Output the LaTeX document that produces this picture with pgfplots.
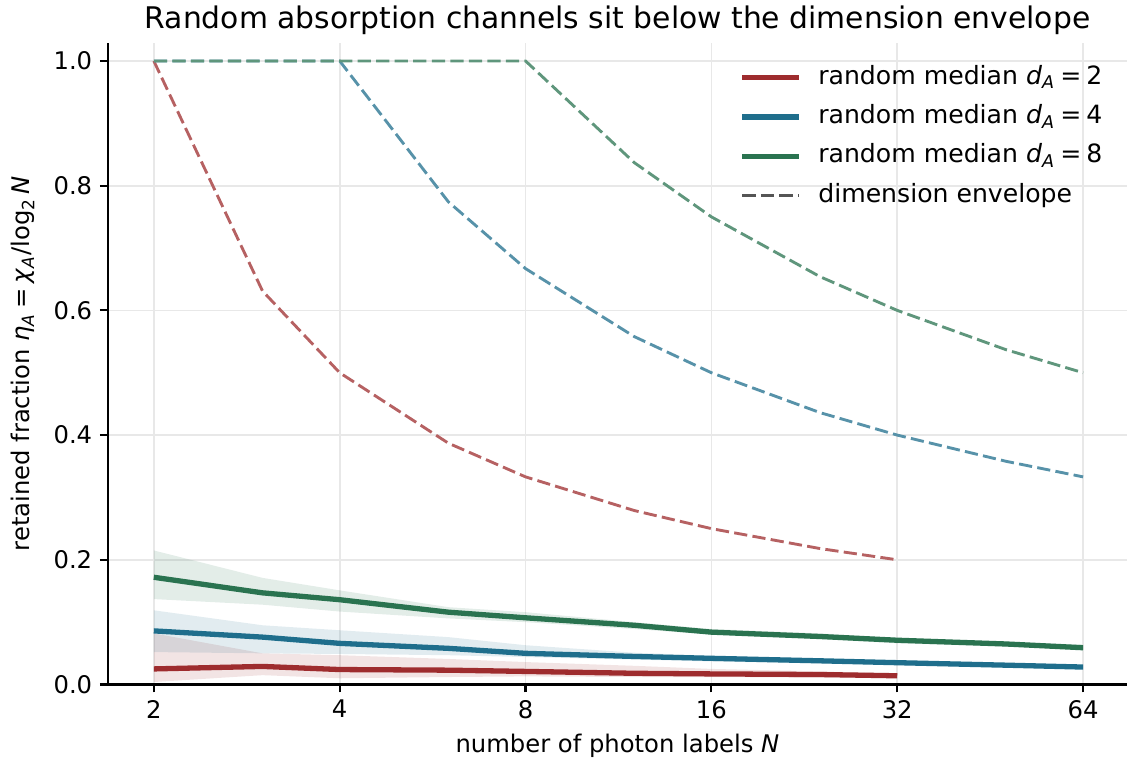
\documentclass[border=0pt]{standalone}
\usepackage{pgfplots}
\pgfplotsset{compat=1.18}
\usepackage{fontspec}
\setmainfont{DejaVu Sans}
\definecolor{cred}{RGB}{158,44,46}
\definecolor{cblue}{RGB}{31,110,140}
\definecolor{cgreen}{RGB}{42,115,80}
\definecolor{cgray}{RGB}{85,85,85}
\newcommand{\sub}[1]{\textsubscript{#1}}
\newcommand{\eqs}{\hspace{0.2em}=\hspace{0.2em}}
\begin{document}
\begin{tikzpicture}
\begin{axis}[
  scale only axis,
  width=462pt, height=290.8pt,
  xmode=log, log basis x=2,
  xmin=1.685, xmax=75.4,
  ymin=0, ymax=1.0288,
  xtick={2,4,8,16,32,64},
  xticklabels={2,4,8,16,32,64},
  ytick={0,0.2,0.4,0.6,0.8,1.0},
  yticklabel style={/pgf/number format/.cd, fixed, fixed zerofill, precision=1},
  /pgf/number format/assume math mode=true,
  axis x line*=bottom, axis y line*=left,
  axis line style={-, line width=1pt},
  tick align=outside,
  major tick length=3.6pt,
  tick style={black, line width=1pt},
  grid=major,
  major grid style={line width=0.8pt, color=black!9},
  ticklabel style={font=\fontsize{11}{13}\selectfont},
  xlabel={number of photon labels \textit{N}},
  ylabel={retained fraction \textit{η}\sub{\textit{A}}\eqs\textit{χ}\sub{\textit{A}}/log\sub{2}\,\textit{N}},
  label style={font=\fontsize{11}{13}\selectfont},
  ylabel style={at={(axis description cs:-0.083,0.5)}, anchor=center},
  title={Random absorption channels sit below the dimension envelope},
  title style={font=\fontsize{13.5}{15}\selectfont, at={(axis description cs:0.5,1)}, anchor=base, yshift=0.6pt},
  legend style={draw=none, fill=none, at={(axis description cs:0.6196,0.966)}, anchor=north west,
    font=\fontsize{11.4}{13}\selectfont, inner sep=0pt, row sep=6.9pt,
    nodes={inner sep=0pt, text height=8.5pt, text depth=2.5pt}},
  legend cell align=left,
  legend image code/.code={\path[draw=none, fill=none] (0pt,0pt) -- (34.4pt,0pt); \draw[#1] (0pt,0pt) -- (25.8pt,0pt);},
]
% bands
\addplot[fill=cred, fill opacity=0.13, draw=none, forget plot] coordinates {
 (2,0.082) (3,0.050) (4,0.047) (6,0.041) (8,0.036) (12,0.030) (16,0.025) (24,0.021) (32,0.018)
 (32,0.011) (24,0.011) (16,0.012) (12,0.012) (8,0.013) (6,0.012) (4,0.010) (3,0.015) (2,0.004)} -- cycle;
\addplot[fill=cblue, fill opacity=0.13, draw=none, forget plot] coordinates {
 (2,0.119) (3,0.095) (4,0.087) (6,0.076) (8,0.063) (12,0.051) (16,0.046) (24,0.041) (32,0.038) (48,0.034) (64,0.031)
 (64,0.026) (48,0.028) (32,0.031) (24,0.034) (16,0.037) (12,0.040) (8,0.044) (6,0.047) (4,0.049) (3,0.050) (2,0.052)} -- cycle;
\addplot[fill=cgreen, fill opacity=0.13, draw=none, forget plot] coordinates {
 (2,0.215) (3,0.171) (4,0.151) (6,0.124) (8,0.116) (12,0.100) (16,0.089) (24,0.082) (32,0.074) (48,0.068) (64,0.064)
 (64,0.057) (48,0.061) (32,0.066) (24,0.073) (16,0.080) (12,0.089) (8,0.100) (6,0.106) (4,0.117) (3,0.128) (2,0.137)} -- cycle;
% envelopes
\addplot[cred!75!white, line width=1.3pt, dash pattern=on 6pt off 2.4pt, forget plot] coordinates {
 (2,1.0) (3,0.631) (4,0.5) (6,0.387) (8,0.333) (12,0.279) (16,0.25) (24,0.218) (32,0.2)};
\addplot[cblue!75!white, line width=1.3pt, dash pattern=on 6pt off 2.4pt, forget plot] coordinates {
 (2,1.0) (3,1.0) (4,1.0) (6,0.774) (8,0.667) (12,0.558) (16,0.5) (24,0.436) (32,0.4) (48,0.358) (64,0.333)};
\addplot[cgreen!75!white, line width=1.3pt, dash pattern=on 6pt off 2.4pt, forget plot] coordinates {
 (2,1.0) (3,1.0) (4,1.0) (6,1.0) (8,1.0) (12,0.837) (16,0.75) (24,0.654) (32,0.6) (48,0.537) (64,0.5)};
% medians
\addplot[cred, line width=2.4pt] coordinates {
 (2,0.025) (3,0.029) (4,0.024) (6,0.023) (8,0.021) (12,0.018) (16,0.017) (24,0.016) (32,0.014)};
\addlegendentry{random median \textit{d}\sub{\textit{A}}\eqs 2}
\addplot[cblue, line width=2.4pt] coordinates {
 (2,0.086) (3,0.076) (4,0.066) (6,0.058) (8,0.050) (12,0.045) (16,0.042) (24,0.038) (32,0.035) (48,0.031) (64,0.028)};
\addlegendentry{random median \textit{d}\sub{\textit{A}}\eqs 4}
\addplot[cgreen, line width=2.4pt] coordinates {
 (2,0.172) (3,0.147) (4,0.136) (6,0.116) (8,0.107) (12,0.095) (16,0.084) (24,0.077) (32,0.071) (48,0.065) (64,0.059)};
\addlegendentry{random median \textit{d}\sub{\textit{A}}\eqs 8}
\addlegendimage{cgray, line width=1.3pt, dash pattern=on 6pt off 2.4pt}
\addlegendentry{dimension envelope}
\end{axis}
\pgfresetboundingbox
\path[use as bounding box] ([xshift=-48.9pt,yshift=-36.2pt]current axis.south west) rectangle ([xshift=0.45pt,yshift=19.5pt]current axis.north east);
\end{tikzpicture}
\end{document}
